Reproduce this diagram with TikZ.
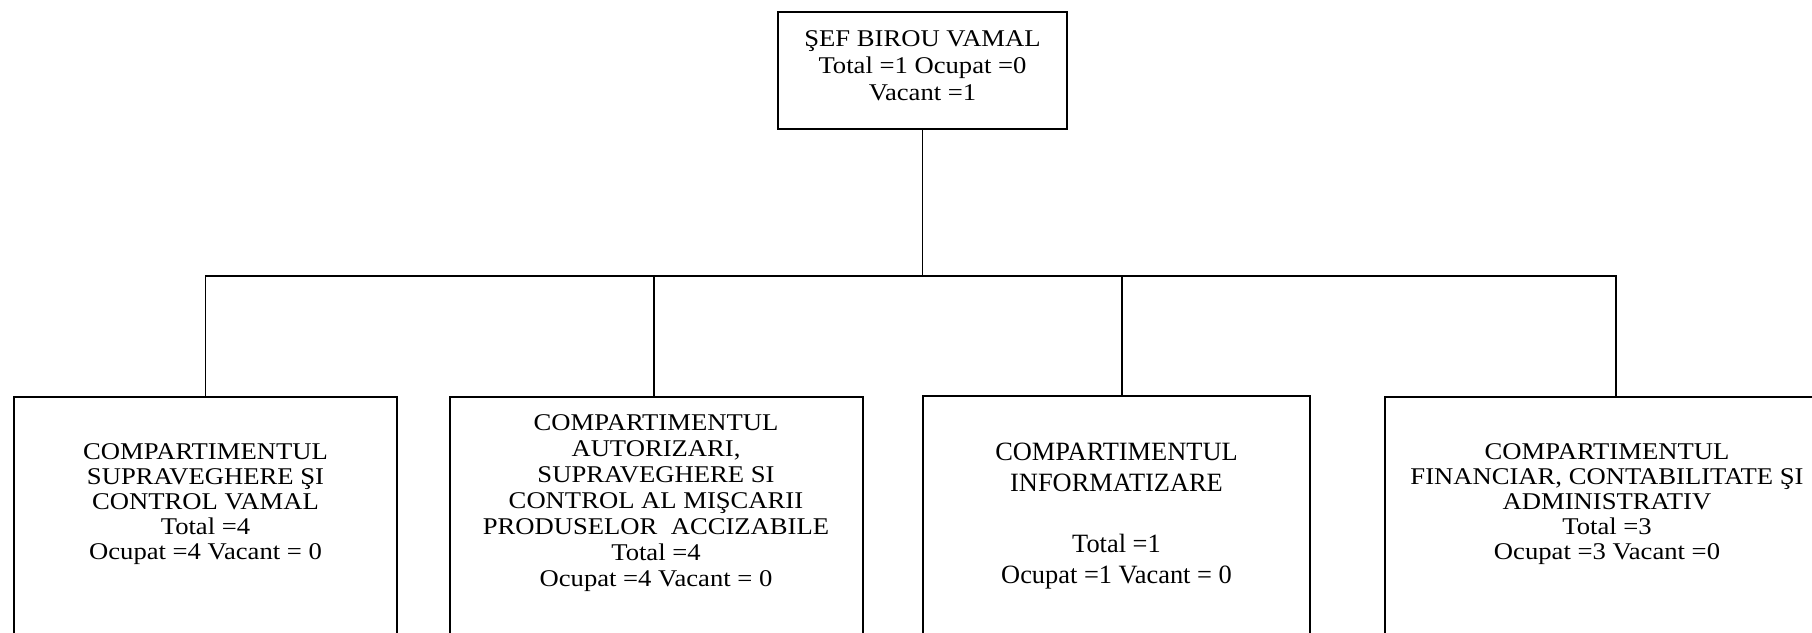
\documentclass[tikz,border=0pt]{standalone}
\usepackage{fontspec}
\setmainfont{Liberation Serif}[FakeStretch=1.11]
\newfontfamily\boxthreefont{Liberation Serif}[FakeStretch=1.0]
\begin{document}
\begin{tikzpicture}[x=1pt,y=-1pt,
  unitbox/.style={draw, line width=2pt, inner sep=0pt, rectangle, align=center},
  link/.style={draw, line width=1.3pt},
  lbl/.style={inner sep=0pt, align=center, anchor=north, font=\fontsize{24}{25}\selectfont}]
\useasboundingbox (0,0) rectangle (1812,632);
\clip (0,0) rectangle (1812,632);

% top box
\node[unitbox, minimum width=289pt, minimum height=117pt] (sef) at (922.5,70.5) {};
\node[lbl, font=\fontsize{24}{27}\selectfont] (seft) at (922.5,30)
  {ŞEF BIROU VAMAL\\Total =1 Ocupat =0\\Vacant =1};

% bottom boxes (extend beyond the page)
\node[unitbox, anchor=north, minimum width=383pt, minimum height=300pt] (b1) at (205.5,396) {};
\node[unitbox, anchor=north, minimum width=413pt, minimum height=300pt] (b2) at (656.5,396) {};
\node[unitbox, anchor=north, minimum width=387pt, minimum height=300pt] (b3) at (1116.5,395) {};
\node[unitbox, anchor=north, minimum width=444pt, minimum height=300pt] (b4) at (1607,396) {};

% texts
\node[lbl] (b1t) at (205.5,443)
  {COMPARTIMENTUL\\SUPRAVEGHERE ŞI\\CONTROL VAMAL\\Total =4\\Ocupat =4 Vacant = 0};
\node[lbl, font=\fontsize{24}{26}\selectfont] (b2t) at (656,414)
  {COMPARTIMENTUL\\AUTORIZARI,\\SUPRAVEGHERE SI\\CONTROL AL MIŞCARII\\PRODUSELOR\ \ ACCIZABILE\\Total =4\\Ocupat =4 Vacant = 0};
\node[lbl, font=\boxthreefont\fontsize{26.4}{30.7}\selectfont] (b3t) at (1116.5,443)
  {COMPARTIMENTUL\\INFORMATIZARE\\[30.7pt]Total =1\\Ocupat =1 Vacant = 0};
\node[lbl] (b4t) at (1607,443)
  {COMPARTIMENTUL\\FINANCIAR, CONTABILITATE ŞI\\ADMINISTRATIV\\Total =3\\Ocupat =3 Vacant =0};

% connectors
\coordinate (jn) at (922.5,276);
\draw[link] (sef.south) -- (jn);
\draw[link] (jn) -| (b1.north);
\draw[link] (jn) -| ([xshift=-2.5pt]b2.north);
\draw[link] (jn) -| ([xshift=5.5pt]b3.north);
\draw[link] (jn) -| ([xshift=9pt]b4.north);
\end{tikzpicture}
\end{document}
